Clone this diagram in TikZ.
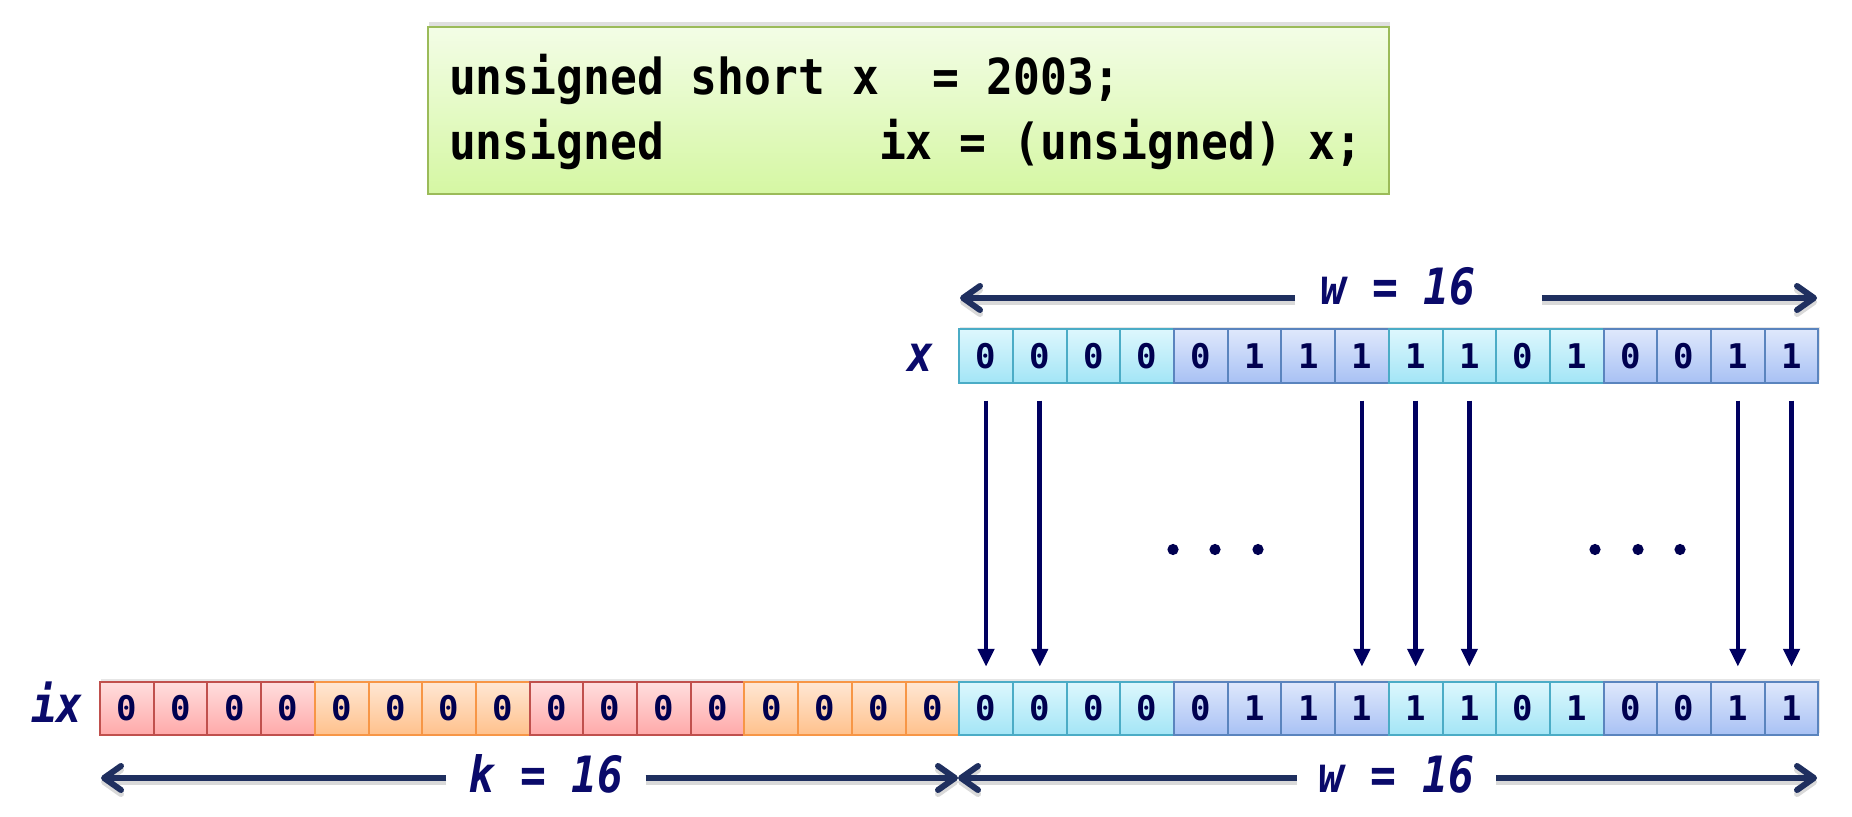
\documentclass[tikz,border=0pt]{standalone}
\usepackage{fontspec}
\usepackage{xcolor}
\usepackage{tikz}
\usetikzlibrary{arrows.meta,shadows}

\newfontfamily\codefont[FakeStretch=0.9]{DejaVu Sans Mono Bold}
\newfontfamily\labelfont[FakeStretch=0.86]{DejaVu Sans Mono Bold Oblique}
\newfontfamily\bitfont{DejaVu Sans Mono Bold}

\definecolor{navytext}{HTML}{0A0A6A}
\definecolor{digitblue}{HTML}{000050}
\definecolor{arrowblue}{HTML}{000060}
\definecolor{dimblue}{HTML}{1F2F5F}
\definecolor{cyantop}{HTML}{DDF7FD}
\definecolor{cyanbot}{HTML}{A3E5F6}
\definecolor{cyanline}{HTML}{4BACC6}
\definecolor{bluetop}{HTML}{DFE8FC}
\definecolor{bluebot}{HTML}{A8C1F4}
\definecolor{blueline}{HTML}{5A84BE}
\definecolor{redtop}{HTML}{FFDEDE}
\definecolor{redbot}{HTML}{FFA9A9}
\definecolor{redline}{HTML}{C0504D}
\definecolor{orangetop}{HTML}{FFE7D4}
\definecolor{orangebot}{HTML}{FFC18C}
\definecolor{orangeline}{HTML}{F79646}
\definecolor{codetop}{HTML}{F3FDE6}
\definecolor{codebot}{HTML}{D5F7A3}
\definecolor{codeline}{HTML}{9BBB59}

\begin{document}
\frenchspacing
\begin{tikzpicture}[x=0.5pt,y=0.5pt,yscale=-1,xscale=1,
  bit/.style={minimum width=26.85pt,minimum height=26.75pt,inner sep=0pt,line width=1pt,
    font=\bitfont\fontsize{17}{17}\selectfont,text=digitblue,
    drop shadow={shadow xshift=0.6pt,shadow yshift=1.2pt,opacity=0.2}},
  cyanbit/.style={bit,draw=cyanline,top color=cyantop,bottom color=cyanbot},
  bluebit/.style={bit,draw=blueline,top color=bluetop,bottom color=bluebot},
  redbit/.style={bit,draw=redline,top color=redtop,bottom color=redbot},
  orangebit/.style={bit,draw=orangeline,top color=orangetop,bottom color=orangebot},
  codebox/.style={draw=codeline,line width=1.2pt,top color=codetop,bottom color=codebot,
    minimum width=480.5pt,minimum height=83.5pt,text width=459.5pt,inner xsep=10.5pt,
    align=flush left,font=\codefont\fontsize{24.8}{32.5}\selectfont,
    drop shadow={shadow xshift=0.5pt,shadow yshift=2.5pt,opacity=0.25}},
  varlabel/.style={font=\labelfont\fontsize{25}{25}\selectfont,text=navytext,inner sep=0pt},
  dimarrow/.style={draw=dimblue,line width=3pt,-{Straight Barb[length=8.5pt,width=12pt,round]},
    preaction={draw=black!15,line width=3pt,transform canvas={yshift=-2pt}}},
  bitarrow/.style={draw=arrowblue,line width=2.3pt,-{Triangle[length=9pt,width=8pt]},
    shorten <=8.5pt,shorten >=7pt}]

\useasboundingbox (0,0) rectangle (1852,817);

% code
\draw (908.5,110.5) node [codebox] (code) {\rule{0pt}{22pt}unsigned short x~~= 2003;\\unsigned~~~~~~~~ix = (unsigned) x;};

% x
\draw (986.05,356) node [cyanbit] (x0) {0};
\draw (1039.75,356) node [cyanbit] (x1) {0};
\draw (1093.45,356) node [cyanbit] (x2) {0};
\draw (1147.15,356) node [cyanbit] (x3) {0};
\draw (1200.85,356) node [bluebit] (x4) {0};
\draw (1254.55,356) node [bluebit] (x5) {1};
\draw (1308.25,356) node [bluebit] (x6) {1};
\draw (1361.95,356) node [bluebit] (x7) {1};
\draw (1415.65,356) node [cyanbit] (x8) {1};
\draw (1469.35,356) node [cyanbit] (x9) {1};
\draw (1523.05,356) node [cyanbit] (x10) {0};
\draw (1576.75,356) node [cyanbit] (x11) {1};
\draw (1630.45,356) node [bluebit] (x12) {0};
\draw (1684.15,356) node [bluebit] (x13) {0};
\draw (1737.85,356) node [bluebit] (x14) {1};
\draw (1791.55,356) node [bluebit] (x15) {1};

% ix
\draw (126.85,708.5) node [redbit] (ix0) {0};
\draw (180.55,708.5) node [redbit] (ix1) {0};
\draw (234.25,708.5) node [redbit] (ix2) {0};
\draw (287.95,708.5) node [redbit] (ix3) {0};
\draw (341.65,708.5) node [orangebit] (ix4) {0};
\draw (395.35,708.5) node [orangebit] (ix5) {0};
\draw (449.05,708.5) node [orangebit] (ix6) {0};
\draw (502.75,708.5) node [orangebit] (ix7) {0};
\draw (556.45,708.5) node [redbit] (ix8) {0};
\draw (610.15,708.5) node [redbit] (ix9) {0};
\draw (663.85,708.5) node [redbit] (ix10) {0};
\draw (717.55,708.5) node [redbit] (ix11) {0};
\draw (771.25,708.5) node [orangebit] (ix12) {0};
\draw (824.95,708.5) node [orangebit] (ix13) {0};
\draw (878.65,708.5) node [orangebit] (ix14) {0};
\draw (932.35,708.5) node [orangebit] (ix15) {0};
\draw (986.05,708.5) node [cyanbit] (ix16) {0};
\draw (1039.75,708.5) node [cyanbit] (ix17) {0};
\draw (1093.45,708.5) node [cyanbit] (ix18) {0};
\draw (1147.15,708.5) node [cyanbit] (ix19) {0};
\draw (1200.85,708.5) node [bluebit] (ix20) {0};
\draw (1254.55,708.5) node [bluebit] (ix21) {1};
\draw (1308.25,708.5) node [bluebit] (ix22) {1};
\draw (1361.95,708.5) node [bluebit] (ix23) {1};
\draw (1415.65,708.5) node [cyanbit] (ix24) {1};
\draw (1469.35,708.5) node [cyanbit] (ix25) {1};
\draw (1523.05,708.5) node [cyanbit] (ix26) {0};
\draw (1576.75,708.5) node [cyanbit] (ix27) {1};
\draw (1630.45,708.5) node [bluebit] (ix28) {0};
\draw (1684.15,708.5) node [bluebit] (ix29) {0};
\draw (1737.85,708.5) node [bluebit] (ix30) {1};
\draw (1791.55,708.5) node [bluebit] (ix31) {1};

\draw (920,371.7) node [varlabel,anchor=base] (xlbl) {x};
\draw (57,722.7) node [varlabel,anchor=base] (ixlbl) {ix};

% widths
\draw (1295,305) node [varlabel,anchor=base west,text width=98pt,align=flush left,inner xsep=12.5pt] (wtop) {w = 16};
\draw (546,792) node [varlabel,anchor=base,inner xsep=10.75pt] (klbl) {k = 16};
\draw (1396.5,792) node [varlabel,anchor=base,inner xsep=10.75pt] (wbot) {w = 16};

\coordinate (wtopL) at (960,298);
\coordinate (wtopR) at (1817,298);
\coordinate (kL) at (101,778);
\coordinate (kR) at (958,778);
\coordinate (wbotR) at (1817,778);

\draw [dimarrow] (wtop.west |- wtopL) -- (wtopL);
\draw [dimarrow] (wtop.east |- wtopL) -- (wtopR);
\draw [dimarrow] (klbl.west |- kL) -- (kL);
\draw [dimarrow] (klbl.east |- kL) -- (kR);
\draw [dimarrow] (wbot.west |- kL) -- (kR);
\draw [dimarrow] (wbot.east |- kL) -- (wbotR);

\draw [bitarrow] (x0.south) -- (ix16.north);
\draw [bitarrow] (x1.south) -- (ix17.north);
\draw [bitarrow] (x7.south) -- (ix23.north);
\draw [bitarrow] (x8.south) -- (ix24.north);
\draw [bitarrow] (x9.south) -- (ix25.north);
\draw [bitarrow] (x14.south) -- (ix30.north);
\draw [bitarrow] (x15.south) -- (ix31.north);

\fill [digitblue] (1173,549.5) circle [radius=2.8pt];
\fill [digitblue] (1215,549.5) circle [radius=2.8pt];
\fill [digitblue] (1258,549.5) circle [radius=2.8pt];
\fill [digitblue] (1595,549.5) circle [radius=2.8pt];
\fill [digitblue] (1638,549.5) circle [radius=2.8pt];
\fill [digitblue] (1680,549.5) circle [radius=2.8pt];
\end{tikzpicture}
\end{document}
